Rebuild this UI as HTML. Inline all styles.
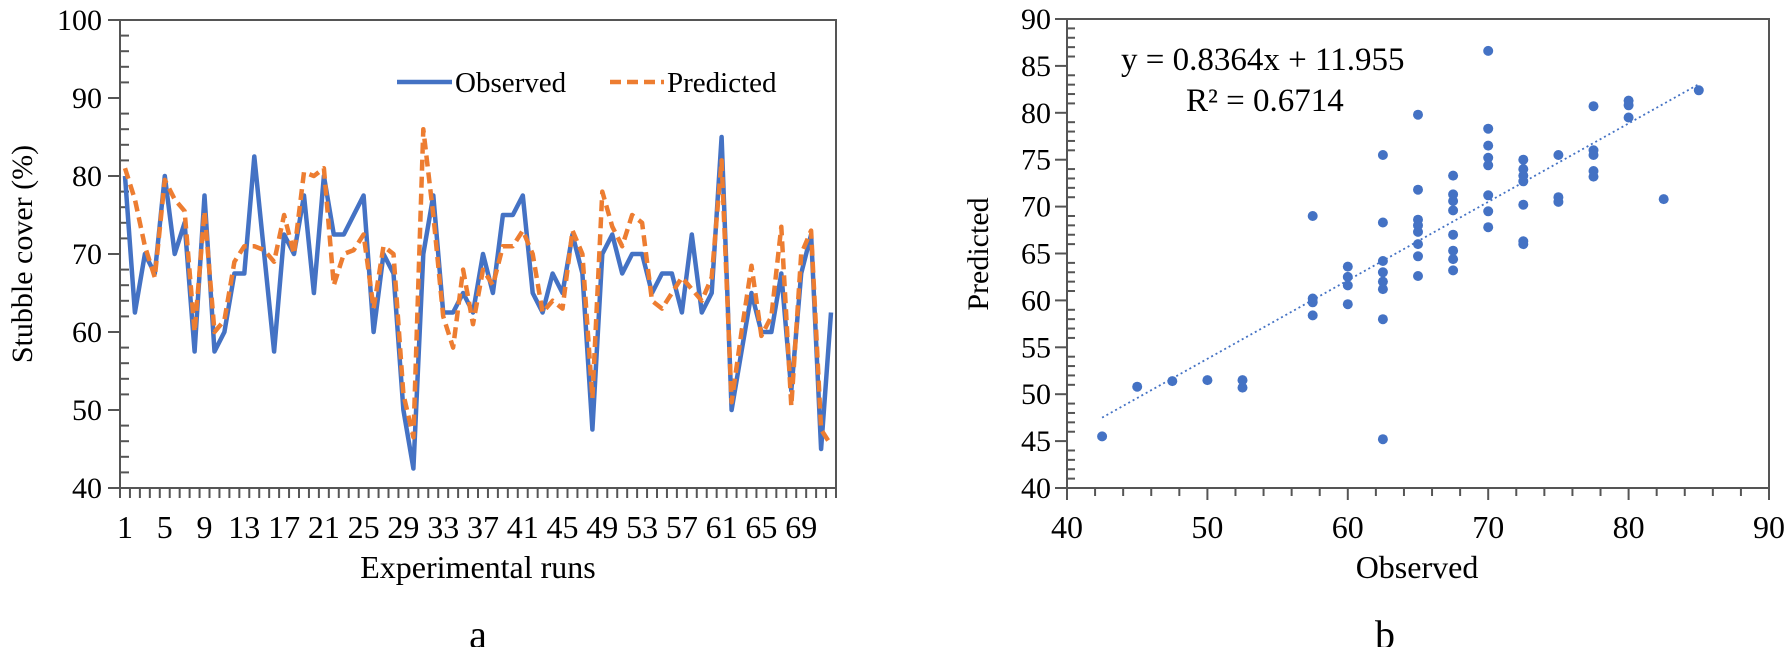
<!DOCTYPE html>
<html><head><meta charset="utf-8">
<style>
html,body{margin:0;padding:0;background:#fff;}
svg{display:block;font-family:"Liberation Serif",serif;}
</style></head>
<body>
<svg id="s" width="1791" height="647" viewBox="0 0 1791 647" xmlns="http://www.w3.org/2000/svg">
<rect width="1791" height="647" fill="#fff"/>
<g id="g"></g>
</svg>
<script>
const g=document.getElementById('g');
let out="";
function L(x1,y1,x2,y2,st){out+=`<line x1="${x1}" y1="${y1}" x2="${x2}" y2="${y2}" ${st}/>`;}
function T(x,y,s,fs,anchor,extra){out+=`<text x="${x}" y="${y}" font-size="${fs}" text-anchor="${anchor||'middle'}" ${extra||''}>${s}</text>`;}
const ax='stroke="#555" stroke-width="2"';
// LEFT CHART
const lx0=120,lx1=836,ly0=488,ly1=20;
const yv=v=>ly0-(v-40)*7.8;
const cw=(lx1-lx0)/72;
const xi=i=>lx0+(i-0.5)*cw;
out+=`<rect x="${lx0}" y="${ly1}" width="${lx1-lx0}" height="${ly0-ly1}" fill="none" stroke="#555" stroke-width="2"/>`;
for(let v=40;v<=100;v+=2){const y=yv(v); if(v%10==0){L(lx0-12,y,lx0,y,ax);T(lx0-18,y+10,v,30,'end');} else L(lx0,y,lx0+9,y,ax);}
for(let i=0;i<=72;i++){const x=lx0+i*cw;L(x,ly0,x,ly0+10,ax);}
for(let i=1;i<=69;i+=4){T(xi(i),ly0+50,i,32,'middle');}
T((lx0+lx1)/2,ly0+90,"Experimental runs",32,'middle');
T(0,0,"Stubble cover (%)",30,'middle',`transform="translate(32,254) rotate(-90)"`);
T(478,648,"a",40,'middle');
const obs=[80,62.5,70,67.5,80,70,74,57.5,77.5,57.5,60,67.5,67.5,82.5,70,57.5,72.5,70,77.5,65,80,72.5,72.5,75,77.5,60,70,67.5,50,42.5,70,77.5,62.5,62.5,65,62.5,70,65,75,75,77.5,65,62.5,67.5,65,72.5,67.5,47.5,70,72.5,67.5,70,70,65,67.5,67.5,62.5,72.5,62.5,65,85,50,57.5,65,60,60,67.5,52.5,67.5,72.5,45,62.5];
const pred=[81,77,71,67,79.5,77,75.5,60,75.5,60,61.5,69,71,71,70.5,69,75,70,80.5,80,81,66,70,70.5,72.5,63,71,70,52,46.5,86,75,62,58,68,61,68,66,71,71,73,70,62.5,64,63,73,70,51.5,78,73.5,71,75,74,64,63,65,67,65.5,64,67,82,51,60,68.5,59.5,62,73.5,50.5,70,73,47.5,45.5];
const pts=a=>a.map((v,i)=>xi(i+1).toFixed(1)+","+yv(v).toFixed(1)).join(" ");
out+=`<polyline points="${pts(obs)}" fill="none" stroke="#4472C4" stroke-width="4.5" stroke-linejoin="round"/>`;
out+=`<polyline points="${pts(pred)}" fill="none" stroke="#ED7D31" stroke-width="4.5" stroke-dasharray="11,6" stroke-linejoin="round"/>`;
// legend
L(397,82,452,82,'stroke="#4472C4" stroke-width="4.5"');
T(455,92,"Observed",29,'start');
L(610,82,664,82,'stroke="#ED7D31" stroke-width="4.5" stroke-dasharray="11,6"');
T(667,92,"Predicted",29,'start');
// RIGHT CHART
const rx0=1067,rx1=1769,ry0=488,ry1=19;
const X=v=>rx0+(v-40)*(rx1-rx0)/50, Y=v=>ry0-(v-40)*(ry0-ry1)/50;
out+=`<rect x="${rx0}" y="${ry1}" width="${rx1-rx0}" height="${ry0-ry1}" fill="none" stroke="#555" stroke-width="2"/>`;
for(let v=40;v<=90;v++){const y=Y(v); if(v%5==0){L(rx0-12,y,rx0,y,ax);T(rx0-16,y+10,v,30,'end');} else L(rx0,y,rx0+8,y,ax);}
for(let v=40;v<=90;v+=2){const x=X(v); if(v%10==0){L(x,ry0,x,ry0+12,ax);T(x,ry0+50,v,32,'middle');} else L(x,ry0,x,ry0+8,ax);}
T((rx0+rx1)/2-1,ry0+90,"Observed",32,'middle');
T(0,0,"Predicted",30,'middle',`transform="translate(988,254) rotate(-90)"`);
T(1385,648,"b",40,'middle');
T(1121,70,"y = 0.8364x + 11.955",33,'start');
T(1186,111,"R² = 0.6714",33,'start');
out+=`<line x1="${X(42.5)}" y1="${Y(47.5)}" x2="${X(85)}" y2="${Y(83.05)}" stroke="#4472C4" stroke-width="1.8" stroke-dasharray="2,3"/>`;
const sc=[[42.5,45.5],[45,50.8],[47.5,51.4],[50,51.5],[52.5,51.5],[52.5,50.7],[57.5,69],[57.5,60.2],[57.5,59.8],[57.5,58.4],[60,63.6],[60,62.5],[60,61.6],[60,59.6],[62.5,75.5],[62.5,68.3],[62.5,64.2],[62.5,63],[62.5,62],[62.5,61.2],[62.5,58],[62.5,45.2],[65,79.8],[65,71.8],[65,68.6],[65,68],[65,67.3],[65,66],[65,64.7],[65,62.6],[67.5,73.3],[67.5,71.3],[67.5,70.6],[67.5,69.6],[67.5,67],[67.5,65.3],[67.5,64.4],[67.5,63.2],[70,86.6],[70,78.3],[70,76.5],[70,75.2],[70,74.4],[70,71.2],[70,69.5],[70,67.8],[72.5,75],[72.5,74],[72.5,73.3],[72.5,72.7],[72.5,70.2],[72.5,66.3],[72.5,66],[75,75.5],[75,71],[75,70.5],[77.5,80.7],[77.5,76],[77.5,75.5],[77.5,73.8],[77.5,73.2],[80,81.3],[80,80.8],[80,79.5],[82.5,70.8],[85,82.4]];
sc.forEach(p=>{out+=`<circle cx="${X(p[0]).toFixed(1)}" cy="${Y(p[1]).toFixed(1)}" r="5" fill="#4472C4"/>`;});
g.innerHTML=out;
</script>
</body></html>
